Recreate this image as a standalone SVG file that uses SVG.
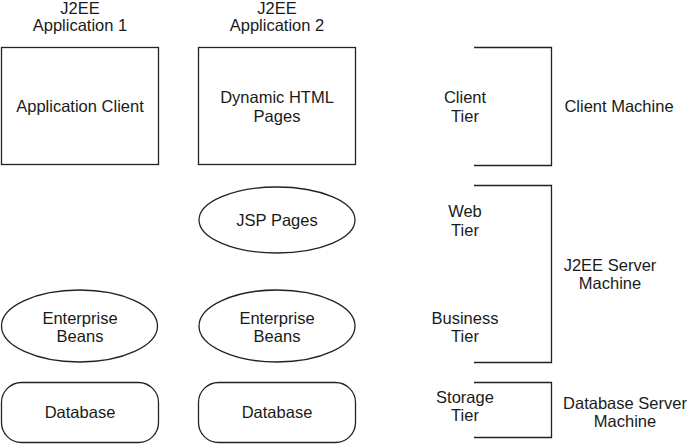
<svg xmlns="http://www.w3.org/2000/svg" width="689" height="444" viewBox="0 0 689 444">
<style>
.s{fill:#fff;stroke:#222;stroke-width:1.3}
.b{fill:none;stroke:#222;stroke-width:1.3}
text{font-family:"Liberation Sans",Arial,sans-serif;font-size:16.5px;fill:#1a1a1a;text-anchor:middle}
</style>
<rect width="689" height="444" fill="#fff"/>
<g id="labels">
<text x="80" y="14">J2EE</text>
<text x="80" y="31">Application 1</text>
<text x="277" y="14">J2EE</text>
<text x="277" y="31">Application 2</text>
</g>
<g id="appclient"><rect class="s" x="1.5" y="47.5" width="157" height="117"/><text x="80" y="112">Application Client</text></g>
<g id="dhtml"><rect class="s" x="198.5" y="47.5" width="157" height="117"/><text x="277" y="103">Dynamic HTML</text><text x="277" y="122">Pages</text></g>
<g id="jsp"><ellipse class="s" cx="277" cy="220" rx="78" ry="33"/><text x="277" y="226">JSP Pages</text></g>
<g id="eb1"><ellipse class="s" cx="79.5" cy="326" rx="78" ry="36"/><text x="80" y="324">Enterprise</text><text x="80" y="342">Beans</text></g>
<g id="eb2"><ellipse class="s" cx="277" cy="326" rx="78" ry="36"/><text x="277" y="324">Enterprise</text><text x="277" y="342">Beans</text></g>
<g id="db1"><rect class="s" x="1.5" y="382.5" width="157" height="60" rx="20"/><text x="80" y="418">Database</text></g>
<g id="db2"><rect class="s" x="198.5" y="382.5" width="157" height="60" rx="20"/><text x="277" y="418">Database</text></g>
<g id="connectors">
<polyline class="b" points="474,47.5 551.5,47.5 551.5,165.5 474,165.5"/>
<polyline class="b" points="474,185.5 551.5,185.5 551.5,362.5 474,362.5"/>
<polyline class="b" points="474,382.5 551.5,382.5 551.5,437.5 474,437.5"/>
</g>
<g id="tiers">
<text x="465" y="103">Client</text><text x="465" y="122">Tier</text>
<text x="465" y="217">Web</text><text x="465" y="236">Tier</text>
<text x="465" y="324">Business</text><text x="465" y="342">Tier</text>
<text x="465" y="403">Storage</text><text x="465" y="421">Tier</text>
</g>
<g id="machines">
<text x="619" y="112">Client Machine</text>
<text x="610" y="271">J2EE Server</text><text x="610" y="289">Machine</text>
<text x="625" y="409">Database Server</text><text x="625" y="427">Machine</text>
</g>
</svg>
